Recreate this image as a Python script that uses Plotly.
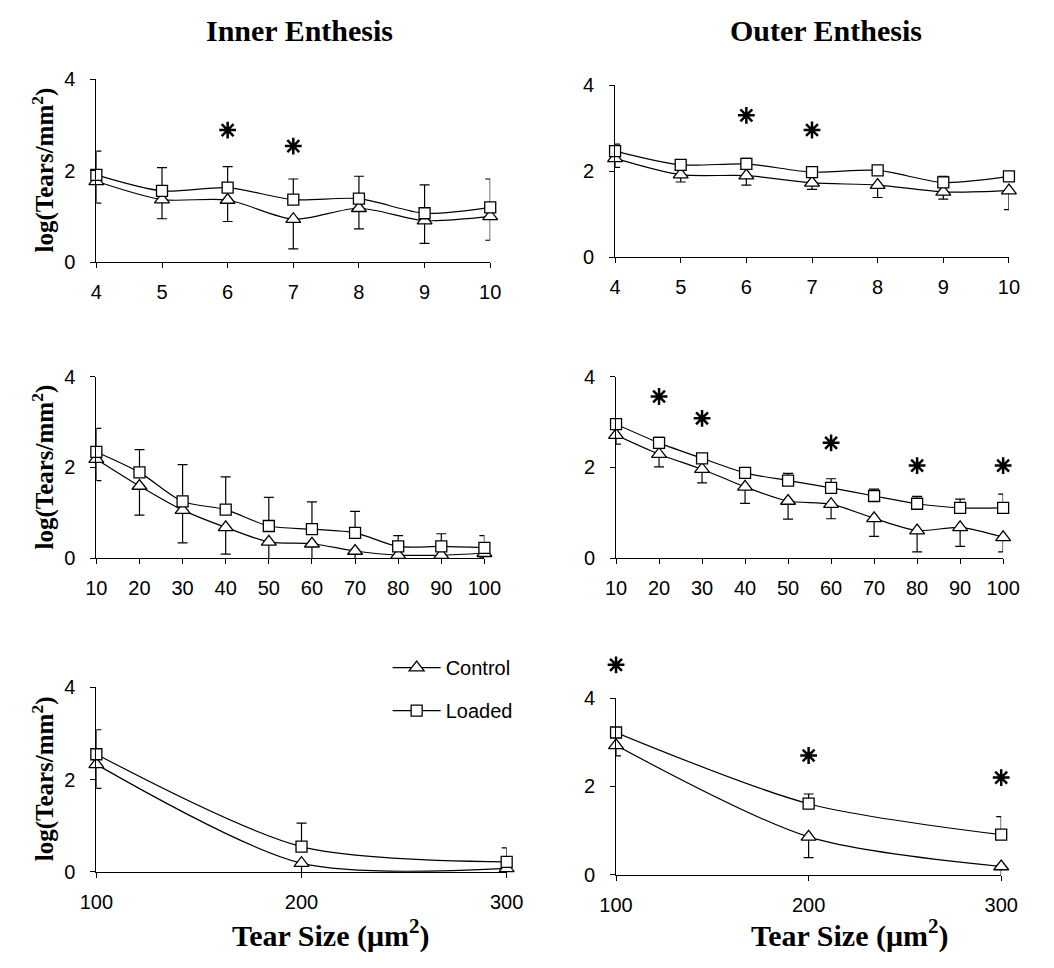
import plotly.graph_objects as go

W, H = 1054, 968

# ---------------- data ----------------
x_small = [4, 5, 6, 7, 8, 9, 10]
x_mid = [10, 20, 30, 40, 50, 60, 70, 80, 90, 100]
x_large = [100, 200, 300]

inner_small_ctrl = [1.77, 1.37, 1.36, 0.94, 1.18, 0.91, 1.00]
inner_small_ctrl_err = [0.48, 0.42, 0.47, 0.65, 0.45, 0.50, 0.52]
inner_small_load = [1.91, 1.56, 1.63, 1.37, 1.39, 1.07, 1.20]
inner_small_load_err = [0.52, 0.51, 0.46, 0.45, 0.49, 0.62, 0.62]
inner_small_sig_x = [6, 7]
inner_small_sig_y = [2.89, 2.54]

outer_small_ctrl = [2.30, 1.92, 1.90, 1.73, 1.68, 1.52, 1.55]
outer_small_ctrl_err = [0.21, 0.17, 0.22, 0.15, 0.29, 0.17, 0.44]
outer_small_load = [2.47, 2.15, 2.17, 1.98, 2.02, 1.74, 1.88]
outer_small_load_err = [0.16, 0.05, 0.13, 0.13, 0.09, 0.14, 0.04]
outer_small_sig_x = [6, 7]
outer_small_sig_y = [3.30, 2.96]

inner_mid_ctrl = [2.18, 1.59, 1.06, 0.68, 0.36, 0.32, 0.16, 0.07, 0.07, 0.11]
inner_mid_ctrl_err = [0.47, 0.64, 0.72, 0.59, 0.41, 0.41, 0.25, 0.10, 0.10, 0.10]
inner_mid_load = [2.34, 1.89, 1.25, 1.07, 0.71, 0.64, 0.56, 0.26, 0.26, 0.23]
inner_mid_load_err = [0.52, 0.50, 0.81, 0.72, 0.63, 0.60, 0.47, 0.24, 0.28, 0.27]
inner_mid_sig_x = []
inner_mid_sig_y = []

outer_mid_ctrl = [2.71, 2.29, 1.96, 1.57, 1.26, 1.19, 0.88, 0.61, 0.68, 0.46]
outer_mid_ctrl_err = [0.20, 0.28, 0.30, 0.36, 0.40, 0.32, 0.40, 0.47, 0.42, 0.32]
outer_mid_load = [2.95, 2.54, 2.20, 1.88, 1.71, 1.55, 1.37, 1.20, 1.11, 1.11]
outer_mid_load_err = [0.05, 0.12, 0.07, 0.10, 0.16, 0.20, 0.15, 0.16, 0.19, 0.30]
outer_mid_sig_x = [20, 30, 60, 80, 100]
outer_mid_sig_y = [3.56, 3.08, 2.54, 2.04, 2.04]

inner_large_ctrl = [2.33, 0.19, 0.08]
inner_large_ctrl_err = [0.52, 0.25, 0.17]
inner_large_load = [2.55, 0.55, 0.22]
inner_large_load_err = [0.53, 0.51, 0.30]
inner_large_sig_x = []
inner_large_sig_y = []

outer_large_ctrl = [2.93, 0.86, 0.19]
outer_large_ctrl_err = [0.24, 0.47, 0.29]
outer_large_load = [3.22, 1.61, 0.91]
outer_large_load_err = [0.05, 0.22, 0.41]
outer_large_sig_x = [100, 200, 300]
outer_large_sig_y = [4.75, 2.70, 2.20]

y_ticks = [0, 2, 4]
col_titles = ["Inner Enthesis", "Outer Enthesis"]
x_title = "Tear Size (\u03bcm<sup>2</sup>)"
y_title = "log(Tears/mm<sup>2</sup>)"

# ---------------- layout helpers ----------------
SERIF = "Liberation Serif, Times New Roman, serif"
SANS = "Liberation Sans, Arial, sans-serif"
Y_MAX = 4
SIG_Y_MAX = 5  # taller invisible scale so asterisks above 4 stay visible

# panel boxes in pixels: (left, right, top, bottom)
boxes = [
    (82, 489, 70, 257), (618, 1025, 76, 252),
    (82, 483, 374, 560), (619, 1019, 374, 560),
    (82, 506, 692, 881), (619, 1017, 703, 884),
]

panels = [
    (x_small, inner_small_ctrl, inner_small_ctrl_err, inner_small_load, inner_small_load_err, inner_small_sig_x, inner_small_sig_y),
    (x_small, outer_small_ctrl, outer_small_ctrl_err, outer_small_load, outer_small_load_err, outer_small_sig_x, outer_small_sig_y),
    (x_mid, inner_mid_ctrl, inner_mid_ctrl_err, inner_mid_load, inner_mid_load_err, inner_mid_sig_x, inner_mid_sig_y),
    (x_mid, outer_mid_ctrl, outer_mid_ctrl_err, outer_mid_load, outer_mid_load_err, outer_mid_sig_x, outer_mid_sig_y),
    (x_large, inner_large_ctrl, inner_large_ctrl_err, inner_large_load, inner_large_load_err, inner_large_sig_x, inner_large_sig_y),
    (x_large, outer_large_ctrl, outer_large_ctrl_err, outer_large_load, outer_large_load_err, outer_large_sig_x, outer_large_sig_y),
]

fig = go.Figure()
layout = {}
for i, ((l, r, t, b), (xs, c, ce, ld, le, sx, sy)) in enumerate(zip(boxes, panels)):
    n = i + 1
    xa = "x" if n == 1 else f"x{n}"
    ya = "y" if n == 1 else f"y{n}"
    zeros = [0] * len(xs)
    show = (n == 5)
    fig.add_trace(go.Scatter(
        x=xs, y=c, xaxis=xa, yaxis=ya, name="Control", showlegend=show,
        legendgroup="c", legendrank=1,
        mode="lines+markers", line=dict(color="black", width=1.2, shape="spline", smoothing=0.8),
        marker=dict(symbol="triangle-up", size=13, color="white", line=dict(color="black", width=1.3)),
        error_y=dict(type="data", symmetric=False, array=zeros, arrayminus=ce,
                     color="black", thickness=1.2, width=5),
        cliponaxis=False))
    fig.add_trace(go.Scatter(
        x=xs, y=ld, xaxis=xa, yaxis=ya, name="Loaded", showlegend=show,
        legendgroup="l", legendrank=2,
        mode="lines+markers", line=dict(color="black", width=1.2, shape="spline", smoothing=0.8),
        marker=dict(symbol="square", size=11, color="white", line=dict(color="black", width=1.3)),
        error_y=dict(type="data", symmetric=False, array=le, arrayminus=zeros,
                     color="black", thickness=1.2, width=5),
        cliponaxis=False))
    axis_common = dict(showline=True, linecolor="black", linewidth=1, showgrid=False,
                       zeroline=False, ticks="outside", tickcolor="black", ticklen=5,
                       tickfont=dict(family=SANS, size=20, color="black"))
    layout["xaxis" if n == 1 else f"xaxis{n}"] = dict(
        axis_common, domain=[l / W, r / W], range=[xs[0], xs[-1]], anchor=ya,
        tickvals=xs, ticklabelstandoff=7)
    layout["yaxis" if n == 1 else f"yaxis{n}"] = dict(
        axis_common, domain=[1 - b / H, 1 - t / H], range=[0, Y_MAX], anchor=xa,
        tickvals=y_ticks, ticklabelstandoff=11)
    if sx:
        sig_ya = f"y{n + 6}"
        fig.add_trace(go.Scatter(
            x=sx, y=sy, xaxis=xa, yaxis=sig_ya, mode="markers", showlegend=False,
            marker=dict(symbol="asterisk-open", size=14, color="black",
                        line=dict(color="black", width=2.5)),
            cliponaxis=False, hoverinfo="skip"))
        top_px = b - (b - t) * SIG_Y_MAX / Y_MAX
        layout[f"yaxis{n + 6}"] = dict(domain=[1 - b / H, 1 - top_px / H], range=[0, SIG_Y_MAX],
                                       anchor=xa, visible=False, showgrid=False, zeroline=False)

anns = []
for txt, xc in zip(col_titles, [292, 836]):
    anns.append(dict(text=f"<b>{txt}</b>", x=xc / W, y=1 - 20 / H, xref="paper", yref="paper",
                     showarrow=False, xanchor="center", yanchor="middle",
                     font=dict(family=SERIF, size=30, color="black")))
for xc in [324, 860]:
    anns.append(dict(text=f"<b>{x_title}</b>", x=xc / W, y=1 - 944 / H, xref="paper", yref="paper",
                     showarrow=False, xanchor="center", yanchor="middle",
                     font=dict(family=SERIF, size=30, color="black")))
for yc in [163, 467, 786]:
    anns.append(dict(text=f"<b>{y_title}</b>", x=27 / W, y=1 - yc / H, xref="paper", yref="paper",
                     showarrow=False, xanchor="center", yanchor="middle", textangle=-90,
                     font=dict(family=SERIF, size=25, color="black")))

fig.update_layout(
    **layout,
    annotations=anns,
    width=W, height=H,
    margin=dict(l=0, r=0, t=0, b=0),
    paper_bgcolor="white", plot_bgcolor="rgba(0,0,0,0)",
    showlegend=True,
    legend=dict(x=383 / W, y=1 - 652 / H, xanchor="left", yanchor="top",
                font=dict(family=SANS, size=20, color="black"),
                bgcolor="rgba(0,0,0,0)", traceorder="grouped", tracegroupgap=14,
                itemwidth=48),
)

fig.write_html("out.html")
